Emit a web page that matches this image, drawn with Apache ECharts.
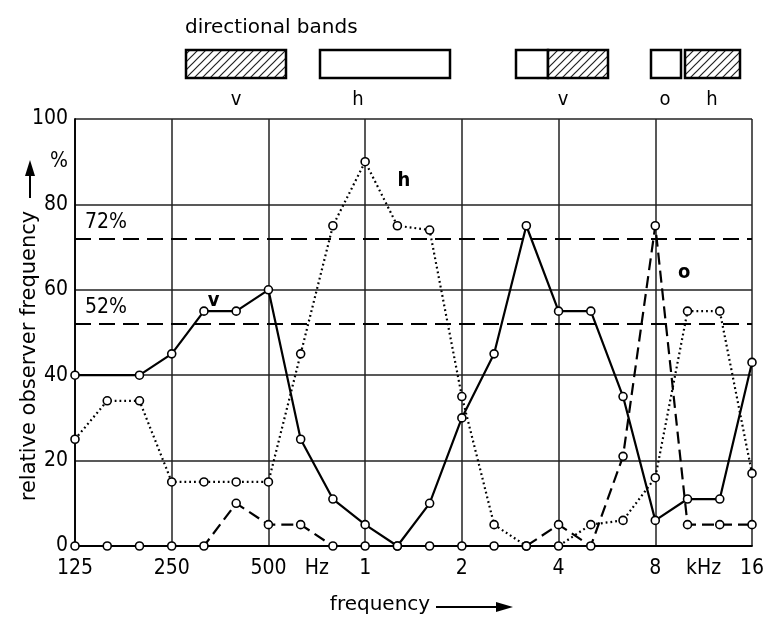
<!DOCTYPE html>
<html><head><meta charset="utf-8">
<script src="https://cdn.jsdelivr.net/npm/echarts@6/dist/echarts.min.js"></script>
<style>html,body{margin:0;padding:0;background:#fff}#c{width:770px;height:620px}</style>
</head><body><div id="c"></div>
<script>
// third-octave band centre frequencies (Hz)
const bands = [125,160,200,250,315,400,500,630,800,1000,1250,1600,2000,2500,3150,4000,5000,6300,8000,10000,12500,16000];
// relative observer frequency (%) per band
const vValues = [40,null,40,45,55,55,60,25,11,5,0,10,30,45,75,55,55,35,6,11,11,43];
const hValues = [25,34,34,15,15,15,15,45,75,90,75,74,35,5,0,0,5,6,16,55,55,17];
const oValues = [0,0,0,0,0,10,5,5,0,0,0,0,0,0,0,5,0,21,75,5,5,5];
// tick labels keyed by band index / percentage
const xTickLabels = {0:'125',3:'250',6:'500',7.5:'Hz',9:'1',12:'2',15:'4',18:'8',19.5:'kHz',21:'16'};
const yTickLabels = {0:'0',20:'20',40:'40',60:'60',80:'80',90:'%',100:'100'};
const thresholds = [72, 52];
const seriesNames = ['v','h','o'];

const FONT = 'DejaVu Sans Condensed';
const FONT2 = 'DejaVu Sans';
const toPairs = arr => arr.map((v,i)=>[i, v]);

// hatch pattern
const pc = document.createElement('canvas');
pc.width = 8; pc.height = 8;
const g = pc.getContext('2d');
g.fillStyle = '#fff'; g.fillRect(0,0,8,8);
g.strokeStyle = '#222'; g.lineWidth = 1.2;
g.beginPath();
g.moveTo(0,8); g.lineTo(8,0);
g.moveTo(-2,2); g.lineTo(2,-2);
g.moveTo(6,10); g.lineTo(10,6);
g.stroke();
const hatch = {image: pc, repeat: 'repeat'};

const chart = echarts.init(document.getElementById('c'), null, {renderer:'canvas'});

const boxStroke = {stroke:'#000', lineWidth:2.5};
function txt(x, y, s, size, extra, fam){
  return Object.assign({type:'text', x:x, y:y, style:{text:s, fontFamily:fam||FONT2, fontSize:size, fill:'#000', align:'center', verticalAlign:'middle'}}, extra||{});
}
const graphics = [
  {type:'text', x:185, y:28, style:{text:'directional bands', fontFamily:FONT2, fontSize:20, fill:'#000', align:'left', verticalAlign:'middle'}},
  {type:'rect', shape:{x:186,y:50,width:100,height:28}, style:Object.assign({fill:hatch}, boxStroke)},
  {type:'rect', shape:{x:320,y:50,width:130,height:28}, style:Object.assign({fill:'#fff'}, boxStroke)},
  {type:'rect', shape:{x:516,y:50,width:32,height:28}, style:Object.assign({fill:'#fff'}, boxStroke)},
  {type:'rect', shape:{x:548,y:50,width:60,height:28}, style:Object.assign({fill:hatch}, boxStroke)},
  {type:'rect', shape:{x:651,y:50,width:30,height:28}, style:Object.assign({fill:'#fff'}, boxStroke)},
  {type:'rect', shape:{x:685,y:50,width:55,height:28}, style:Object.assign({fill:hatch}, boxStroke)},
  txt(236, 100, 'v', 20, null, FONT),
  txt(358, 100, 'h', 20, null, FONT),
  txt(563, 100, 'v', 20, null, FONT),
  txt(665, 100, 'o', 20, null, FONT),
  txt(712, 100, 'h', 20, null, FONT),
  // y axis title + arrow
  txt(30, 356, 'relative observer frequency', 21, {rotation:Math.PI/2}),
  {type:'line', shape:{x1:30,y1:198,x2:30,y2:172}, style:{stroke:'#000', lineWidth:2}},
  {type:'polygon', shape:{points:[[25,176],[35,176],[30,160]]}, style:{fill:'#000'}},
  // x axis title + arrow
  txt(380, 605, 'frequency', 20),
  {type:'line', shape:{x1:436,y1:607,x2:500,y2:607}, style:{stroke:'#000', lineWidth:2}},
  {type:'polygon', shape:{points:[[496,602],[496,612],[513,607]]}, style:{fill:'#000'}}
];

const lineBase = {
  type:'line', symbol:'circle', symbolSize:8, connectNulls:true,
  itemStyle:{color:'#fff', borderColor:'#000', borderWidth:1.6},
  emphasis:{disabled:true}, z:5
};
function nameLabel(t, idx, val){
  return {symbol:'circle', symbolSize:0, silent:true,
    label:{show:true, formatter:t, color:'#000', fontFamily:FONT, fontSize:20, fontWeight:'bold'},
    data:[{coord:[idx, val]}]};
}

chart.setOption({
  animation:false,
  backgroundColor:'#fff',
  grid:{left:75, right:18, top:119, bottom:74},
  xAxis:[
    {type:'value', min:0, max:21, interval:0.5,
     axisLine:{show:true, lineStyle:{color:'#000', width:1.8}},
     axisTick:{show:false}, splitLine:{show:false},
     axisLabel:{margin:12, color:'#000', fontFamily:FONT, fontSize:21, showMinLabel:true, showMaxLabel:true,
       formatter:v=> (xTickLabels[v] !== undefined ? xTickLabels[v] : '')}},
    {type:'value', min:0, max:21, interval:3, position:'top',
     axisLine:{show:false}, axisTick:{show:false}, axisLabel:{show:false},
     splitLine:{show:true, lineStyle:{color:'#222', width:1.5}}}
  ],
  yAxis:[
    {type:'value', min:0, max:100, interval:10,
     axisLine:{show:true, lineStyle:{color:'#000', width:1.8}},
     axisTick:{show:false}, splitLine:{show:false},
     axisLabel:{margin:7, color:'#000', fontFamily:FONT, fontSize:21,
       formatter:v=> (yTickLabels[v] !== undefined ? yTickLabels[v] : '')}},
    {type:'value', min:0, max:100, interval:20, position:'right',
     axisLine:{show:false}, axisTick:{show:false}, axisLabel:{show:false},
     splitLine:{show:true, lineStyle:{color:'#222', width:1.5}}}
  ],
  series:[
    Object.assign({}, lineBase, {name:seriesNames[0], data:toPairs(vValues),
      lineStyle:{color:'#000', width:2.2},
      markPoint:nameLabel('v', 4.3, 57.5)}),
    Object.assign({}, lineBase, {name:seriesNames[1], data:toPairs(hValues),
      lineStyle:{color:'#000', width:2.2, type:[1.8,3]},
      markPoint:nameLabel('h', 10.2, 85.5),
      markLine:{symbol:'none', silent:true, z:3,
        lineStyle:{color:'#000', width:1.8, type:[16,8]},
        label:{show:true, position:'insideStartTop', formatter:p=>p.value+'%', color:'#000', fontFamily:FONT, fontSize:21, distance:[10,6]},
        data:thresholds.map(t=>({yAxis:t}))}}),
    Object.assign({}, lineBase, {name:seriesNames[2], data:toPairs(oValues),
      lineStyle:{color:'#000', width:2.2, type:[12,6]},
      markPoint:nameLabel('o', 18.9, 64)})
  ],
  graphic:graphics
});
</script></body></html>
